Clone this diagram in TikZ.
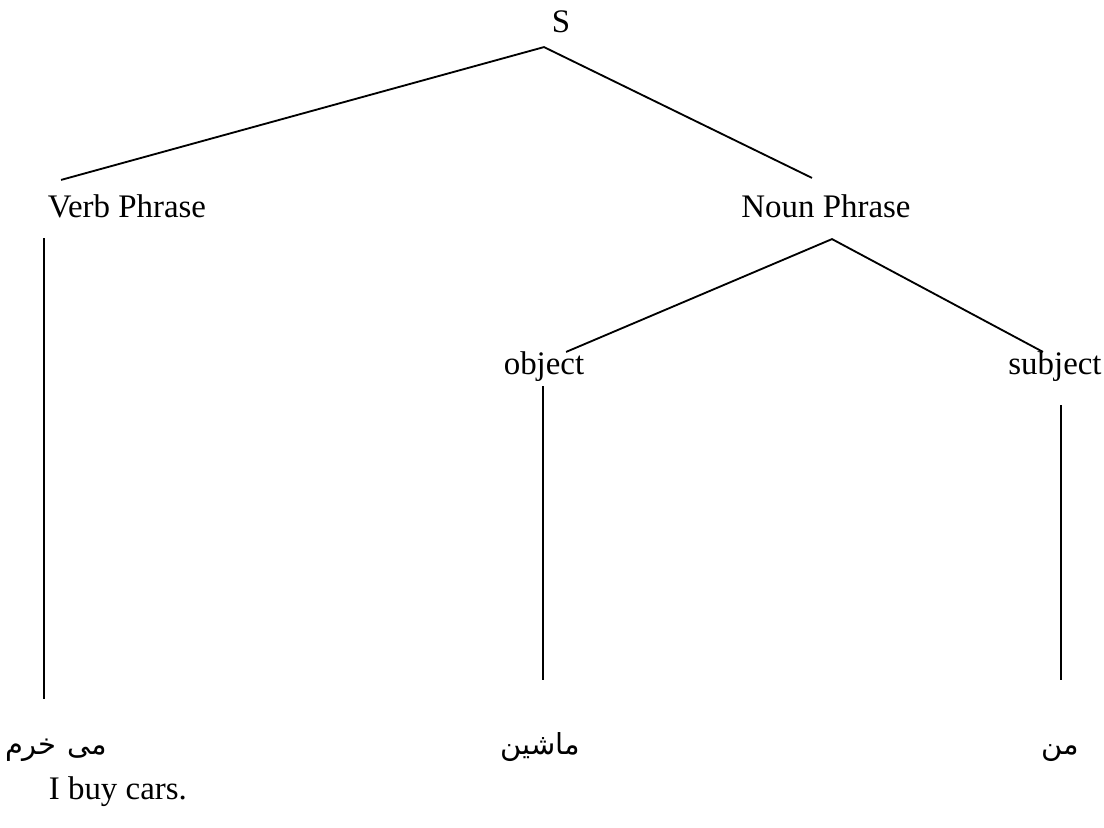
\documentclass[tikz,border=0pt]{standalone}
\usepackage{fontspec}
\setmainfont{Liberation Serif}
\newfontfamily\arabicfont[Script=Arabic]{DejaVu Sans}
\TeXXeTstate=1
\usetikzlibrary{calc}

\begin{document}
\begin{tikzpicture}[x=0.38pt, y=-0.38pt, line width=0.7pt,
    every node/.style={inner sep=0pt, text height=8pt, text depth=2pt,
      font=\fontsize{12.5}{15}\selectfont},
    word/.style={font=\fontsize{11}{15}\selectfont\arabicfont}]
        \useasboundingbox (0,0) rectangle (1104,828);
        %\node at (0,0) {tree};

        \node (S) at (561, 25) {S};
        \node (vp) at (127, 210) {Verb Phrase};
        \node (np) at (826, 210) {Noun Phrase};
        \node (obj) at (544, 367) {object};
        \node (subj) at (1055, 367) {subject};
        \node[word] (w1) at (56, 747) {\beginR می\hspace{4pt}خرم\endR};
        \node[word] (w2) at (540, 747) {\beginR ماشین\endR};
        \node[word] (w3) at (1060, 747) {\beginR من\endR};
        \node[anchor=west] (gloss) at (48, 792) {I buy cars.};

        \draw ($(vp.north west)+(14,-16)$) -- ($(S.south)+(-17,8)$) -- ($(np.north)+(-14,-18)$);
        \draw ($(obj.north east)+(-19,-1)$) -- ($(np.south)+(6,15)$) -- ($(subj.north)+(-12,-1)$);
        \draw ($(vp.south west)+(-3,14)$) -- ($(vp.south west |- w1.north)+(-3,-34)$);
        \draw ($(obj.south)+(-1,5)$) -- ($(obj.south |- w2.north)+(-1,-53)$);
        \draw ($(subj.south)+(6,24)$) -- ($(subj.south |- w3.north)+(6,-53)$);
\end{tikzpicture}
\end{document}
